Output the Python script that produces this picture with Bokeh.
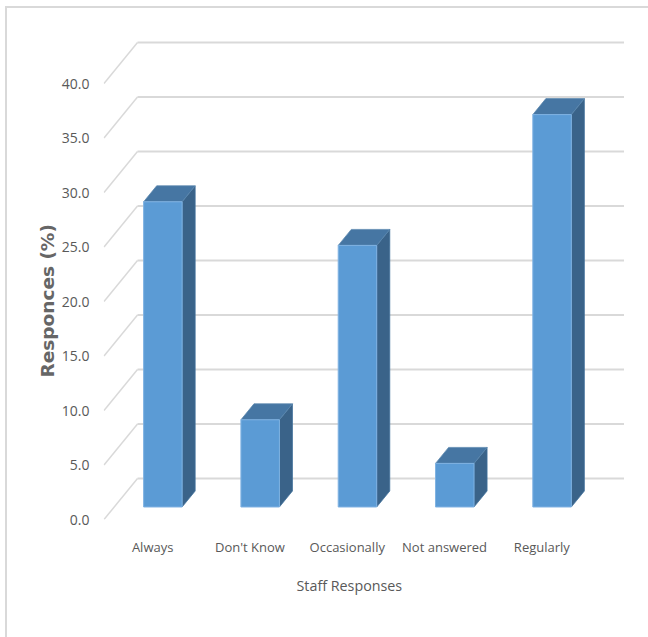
from bokeh.embed import file_html
from bokeh.models import FixedTicker, Range1d, Title
from bokeh.plotting import figure
from bokeh.resources import INLINE

categories = ["Always", "Don't Know", "Occasionally", "Not answered", "Regularly"]
responses = [28.0, 8.0, 24.0, 4.0, 36.0]
y_ticks = [0, 5, 10, 15, 20, 25, 30, 35, 40]

FONT = "Open Sans"
TEXT = "#595959"
GRID = "#D9D9D9"
FACE = "#5B9BD5"
TOP = "#4676A3"
SIDE = "#3A6389"

# Pixels per unit on each axis, and how far the back wall sits behind the front edge.
PX_X, PX_Y = 97.3, 10.9
DEPTH_X, DEPTH_Y = 33.5 / PX_X, 41.0 / PX_Y
LEFT, BOTTOM, TOP_PAD = 103, 118, 8
W, H = 648, 637


def project(x, y, depth):
    """Oblique projection of a point on the 3-D floor grid to plot coordinates."""
    return x + depth * DEPTH_X, y + depth * DEPTH_Y


# The chart-area border is painted behind a transparent canvas.
border = "linear-gradient(#D9D9D9,#D9D9D9)"
p = figure(
    width=W, height=H, output_backend="svg", toolbar_location=None,
    x_range=Range1d(-0.5 / PX_X, (W - LEFT - 0.5) / PX_X),
    y_range=Range1d(0, (H - BOTTOM - TOP_PAD) / PX_Y),
    min_border_left=LEFT, min_border_right=0,
    min_border_top=TOP_PAD, min_border_bottom=BOTTOM,
    outline_line_color=None, background_fill_color=None, border_fill_color=None,
    styles={"background": f"{border} 5px 6px / 643px 2px no-repeat, "
                          f"{border} 5px 6px / 2px 631px no-repeat, white"},
)
p.grid.visible = False

# Axes: tick labels only, the lines are part of the drawn grid.
p.yaxis.ticker = FixedTicker(ticks=y_ticks)
p.yaxis.major_label_overrides = {t: f"{t:.1f}" for t in y_ticks}
p.xaxis.ticker = FixedTicker(ticks=[i + 0.5 for i in range(len(categories))])
p.xaxis.major_label_overrides = {i + 0.5: c for i, c in enumerate(categories)}
for ax in (p.xaxis[0], p.yaxis[0]):
    ax.axis_line_color = None
    ax.major_tick_line_color = None
    ax.minor_tick_line_color = None
    ax.major_label_text_font = FONT
    ax.major_label_text_color = TEXT
p.yaxis.major_label_text_font_size = "14px"
p.xaxis.major_label_text_font_size = "13px"
p.yaxis.major_label_standoff = 8
p.xaxis.major_label_standoff = 12

# Side wall and back wall grid lines.
diag_x, diag_y, back_x, back_y = [], [], [], []
for t in y_ticks:
    x0, y0 = project(0, t, 0)
    x1, y1 = project(0, t, 1)
    x2, y2 = project(len(categories), t, 1)
    diag_x.append([x0, x1])
    diag_y.append([y0, y1])
    back_x.append([x1, x2])
    back_y.append([y1, y2])
p.multi_line(diag_x, diag_y, line_color=GRID, line_width=1.5)
p.multi_line(back_x, back_y, line_color=GRID, line_width=2)

# 3-D columns: front face, top and right side.
BAR_W = 38.5 / PX_X
D_FRONT, D_BACK = 0.305, 0.695
face_x, face_y, top_x, top_y, side_x, side_y = [], [], [], [], [], []
for i, v in enumerate(responses):
    x0 = i + 0.5 - BAR_W / 2
    x1 = i + 0.5 + BAR_W / 2
    f0 = project(x0, 0, D_FRONT)
    f1 = project(x1, 0, D_FRONT)
    f2 = project(x1, v, D_FRONT)
    f3 = project(x0, v, D_FRONT)
    b1 = project(x1, 0, D_BACK)
    b2 = project(x1, v, D_BACK)
    b3 = project(x0, v, D_BACK)
    face_x.append([f0[0], f1[0], f2[0], f3[0]])
    face_y.append([f0[1], f1[1], f2[1], f3[1]])
    top_x.append([f3[0], f2[0], b2[0], b3[0]])
    top_y.append([f3[1], f2[1], b2[1], b3[1]])
    side_x.append([f1[0], b1[0], b2[0], f2[0]])
    side_y.append([f1[1], b1[1], b2[1], f2[1]])
p.patches(side_x, side_y, fill_color=SIDE, line_color="#41719C", line_width=0.75)
p.patches(top_x, top_y, fill_color=TOP, line_color="#5B87AE", line_width=0.75)
p.patches(face_x, face_y, fill_color=FACE, line_color="#7FB2E2", line_width=1)

# Axis titles, placed along the frame by their offset from its start.
p.add_layout(Title(
    text="Staff Responses", align="left", offset=193, standoff=31,
    text_font=FONT, text_font_size="14.3px", text_font_style="normal", text_color=TEXT,
), "below")
p.add_layout(Title(
    text="Responces (%)", align="left", offset=142, standoff=2,
    text_font="DejaVu Sans", text_font_size="18.5px", text_font_style="bold", text_color="#666666",
), "left")

open("out.html", "w").write(file_html(p, INLINE))
